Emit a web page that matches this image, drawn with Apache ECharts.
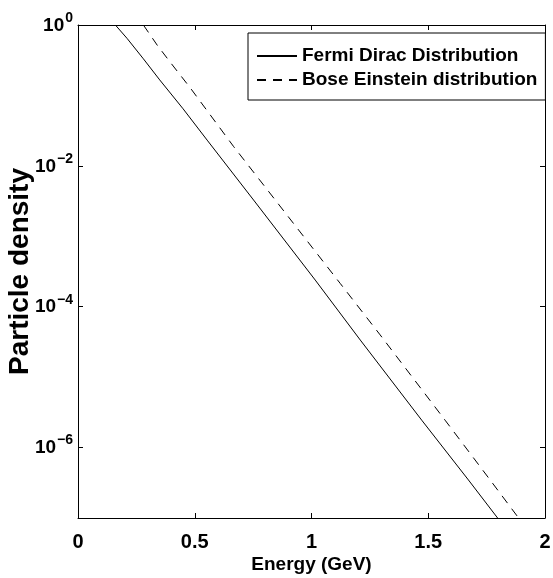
<!DOCTYPE html>
<html>
<head>
<meta charset="utf-8">
<script src="https://cdn.jsdelivr.net/npm/echarts@6/dist/echarts.min.js"></script>
<style>
html,body{margin:0;padding:0;background:#fff;}
#chart{width:553px;height:578px;}
</style>
</head>
<body>
<div id="chart"></div>
<script>
// Energy (GeV) and particle density
var fermiEnergy = [0.16, 0.21, 0.28, 0.35, 0.45, 0.553, 0.752, 1.016, 1.209, 1.472, 1.672, 1.797];
var fermiDensity = [1.0, 0.646, 0.331, 0.166, 0.0646, 0.0232, 0.00327, 2.39e-4, 3.36e-5, 2.45e-6, 3.47e-7, 1.0e-7];
var boseEnergy = [0.28, 0.34, 0.40, 0.48, 0.667, 0.845, 1.123, 1.294, 1.572, 1.765, 1.887];
var boseDensity = [1.0, 0.513, 0.282, 0.129, 0.0187, 0.00327, 2.14e-4, 3.98e-5, 2.45e-6, 3.47e-7, 1.0e-7];
var xTicks = [0, 0.5, 1, 1.5, 2];
var yTicks = [1e-6, 1e-4, 1e-2, 1];
var seriesNames = ['Fermi Dirac Distribution', 'Bose Einstein distribution'];

function pairs(xs, ys) {
  return xs.map(function (x, i) { return [x, ys[i]]; });
}

var FONT = '"Liberation Sans", Arial, sans-serif';

function supLabel(v) {
  var e = Math.round(Math.log10(v));
  var s = (e < 0 ? '\u2212' : '') + Math.abs(e);
  return '{b|10}{e|' + s + '}';
}

var chart = echarts.init(document.getElementById('chart'), null, {renderer: 'canvas'});
var axisLineStyle = {color: '#000', width: 1};
var option = {
  animation: false,
  backgroundColor: '#fff',
  grid: {left: 78, right: 8, top: 25, bottom: 60, containLabel: false, outerBoundsMode: 'none'},
  legend: {
    data: seriesNames,
    orient: 'vertical',
    left: 248,
    top: 33,
    padding: [13, 8, 10, 8],
    itemGap: 4,
    itemWidth: 40,
    itemHeight: 14,
    backgroundColor: '#fff',
    borderColor: '#000',
    borderWidth: 1,
    borderRadius: 0,
    itemStyle: {color: 'rgba(0,0,0,0)', borderWidth: 0, opacity: 0},
    textStyle: {fontFamily: FONT, fontWeight: 'bold', fontSize: 19, color: '#000', lineHeight: 20}
  },
  xAxis: [{
    type: 'value',
    min: 0, max: 2, interval: 0.5,
    name: 'Energy (GeV)',
    nameLocation: 'middle',
    nameGap: 37,
    nameMoveOverlap: false,
    nameTextStyle: {fontFamily: FONT, fontWeight: 'bold', fontSize: 19, color: '#000'},
    axisLine: {show: true, onZero: false, lineStyle: axisLineStyle},
    axisTick: {show: true, inside: true, length: 5, lineStyle: axisLineStyle},
    axisLabel: {show: true, margin: 14, fontFamily: FONT, fontWeight: 'bold', fontSize: 20, color: '#000',
      customValues: xTicks},
    splitLine: {show: false}
  }, {
    type: 'value',
    position: 'top',
    min: 0, max: 2, interval: 0.5,
    axisLine: {show: true, onZero: false, lineStyle: axisLineStyle},
    axisTick: {show: true, inside: true, length: 5, lineStyle: axisLineStyle},
    axisLabel: {show: false},
    splitLine: {show: false}
  }],
  yAxis: [{
    type: 'log',
    logBase: 10,
    min: 1e-7, max: 1,
    name: 'Particle density',
    nameLocation: 'middle',
    nameGap: 44,
    nameMoveOverlap: false,
    nameRotate: 90,
    nameTextStyle: {fontFamily: FONT, fontWeight: 'bold', fontSize: 28, color: '#000'},
    axisLine: {show: true, onZero: false, lineStyle: axisLineStyle},
    axisTick: {show: true, inside: true, length: 5, lineStyle: axisLineStyle, customValues: yTicks},
    axisLabel: {
      show: true, margin: 5, customValues: yTicks,
      formatter: supLabel,
      rich: {
        b: {fontFamily: FONT, fontWeight: 'bold', fontSize: 19, color: '#000', verticalAlign: 'bottom', lineHeight: 20},
        e: {fontFamily: FONT, fontWeight: 'bold', fontSize: 14, color: '#000', verticalAlign: 'bottom', lineHeight: 14, padding: [0, 0, 10, 1]}
      }
    },
    splitLine: {show: false}
  }, {
    type: 'log',
    logBase: 10,
    position: 'right',
    min: 1e-7, max: 1,
    axisLine: {show: true, onZero: false, lineStyle: axisLineStyle},
    axisTick: {show: true, inside: true, length: 5, lineStyle: axisLineStyle, customValues: yTicks},
    axisLabel: {show: false},
    splitLine: {show: false}
  }],
  series: [{
    name: seriesNames[0],
    type: 'line',
    xAxisIndex: 0, yAxisIndex: 0,
    data: pairs(fermiEnergy, fermiDensity),
    showSymbol: false,
    symbol: 'none',
    lineStyle: {color: '#000', width: 1, type: 'solid'},
    itemStyle: {color: '#000'},
    clip: true
  }, {
    name: seriesNames[1],
    type: 'line',
    xAxisIndex: 0, yAxisIndex: 0,
    data: pairs(boseEnergy, boseDensity),
    showSymbol: false,
    symbol: 'none',
    lineStyle: {color: '#000', width: 1, type: [9, 7]},
    itemStyle: {color: '#000'},
    clip: true
  }]
};
chart.setOption(option);
</script>
</body>
</html>
